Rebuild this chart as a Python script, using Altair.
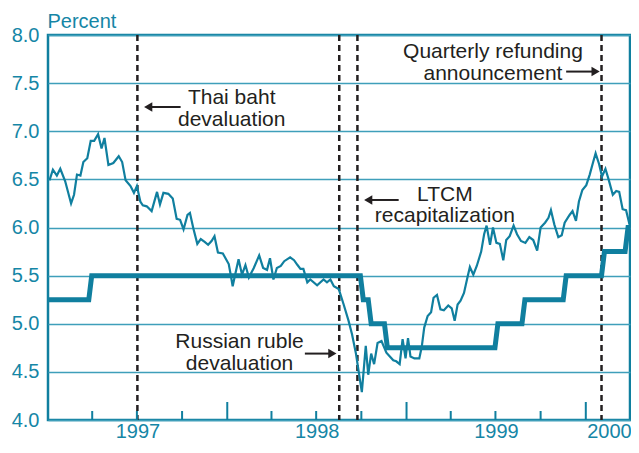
import altair as alt
import pandas as pd

BASE = pd.Timestamp("1997-01-01")

# Weekly yield series: days since 1997-01-01 and percent
yield_days = [3, 10, 18, 25, 35, 47, 53, 59, 66, 72, 80, 87, 94, 102, 109, 115, 123, 133, 144, 151,
              158, 168, 175, 181, 188, 193, 201, 211, 222, 228, 235, 245, 254, 262, 269, 276, 284, 289, 296, 304,
              311, 319, 326, 333, 339, 346, 356, 368, 373, 376, 381, 388, 395, 402, 409, 419, 430, 438, 446, 452,
              459, 466, 474, 481, 493, 501, 508, 514, 520, 528, 534, 548, 561, 568, 575, 582, 592, 602, 612, 619,
              627, 639, 647, 652, 658, 664, 671, 679, 689, 696, 703, 709, 716, 722, 728, 733, 738, 746, 756, 761,
              766, 773, 780, 785, 792, 799, 806, 815, 822, 828, 834, 840, 847, 854, 859, 866, 873, 882, 888, 893,
              900, 906, 913, 920, 927, 933, 940, 948, 955, 963, 972, 980, 988, 996, 1003, 1012, 1019, 1024, 1031, 1039,
              1046, 1052, 1062, 1068, 1075, 1081, 1088, 1096, 1103, 1110, 1115, 1122, 1128, 1135, 1142, 1150, 1157, 1163, 1170, 1177,
              1184]
yield_vals = [6.49, 6.60, 6.54, 6.61, 6.48, 6.25, 6.34, 6.55, 6.54, 6.68, 6.72, 6.90, 6.90, 6.97, 6.82, 6.93, 6.65, 6.67, 6.74, 6.68,
              6.49, 6.43, 6.36, 6.43, 6.27, 6.23, 6.22, 6.17, 6.37, 6.24, 6.36, 6.35, 6.30, 6.09, 6.08, 5.98, 6.13, 6.15, 5.99, 5.83,
              5.88, 5.85, 5.82, 5.86, 5.91, 5.74, 5.73, 5.62, 5.48, 5.39, 5.51, 5.67, 5.51, 5.61, 5.48, 5.58, 5.71, 5.58, 5.56, 5.68,
              5.46, 5.58, 5.60, 5.65, 5.69, 5.66, 5.61, 5.57, 5.57, 5.43, 5.46, 5.40, 5.46, 5.43, 5.46, 5.39, 5.36, 5.20, 5.03, 4.89,
              4.69, 4.29, 4.77, 4.47, 4.69, 4.58, 4.80, 4.82, 4.70, 4.66, 4.62, 4.61, 4.58, 4.84, 4.64, 4.85, 4.66, 4.64, 4.64, 4.76,
              4.96, 5.08, 5.12, 5.27, 5.30, 5.15, 5.14, 5.19, 5.16, 5.03, 5.20, 5.24, 5.32, 5.48, 5.59, 5.51, 5.60, 5.75, 5.93, 6.02,
              5.82, 6.00, 5.84, 5.83, 5.66, 5.87, 5.91, 6.02, 5.93, 5.86, 5.84, 5.90, 5.87, 5.76, 6.00, 6.05, 6.10, 6.18, 6.03, 5.90,
              5.92, 6.05, 6.13, 6.17, 6.07, 6.27, 6.39, 6.44, 6.55, 6.68, 6.77, 6.66, 6.53, 6.61, 6.49, 6.34, 6.38, 6.37, 6.19, 6.18,
              6.03]

# Fed funds target (step series)
target_dates = ["1997-01-01", "1997-03-25", "1997-03-31", "1998-09-29", "1998-10-05", "1998-10-15",
                "1998-10-21", "1998-11-17", "1998-11-23", "1999-06-30", "1999-07-06", "1999-08-24",
                "1999-08-30", "1999-11-16", "1999-11-22", "2000-02-02", "2000-02-08", "2000-03-21",
                "2000-03-27", "2000-03-31"]
target_vals = [5.25, 5.25, 5.5, 5.5, 5.25, 5.25, 5.0, 5.0, 4.75, 4.75, 5.0, 5.0,
               5.25, 5.25, 5.5, 5.5, 5.75, 5.75, 6.0, 6.0]

event_dates = ["1997-07-02", "1998-08-17", "1998-09-23", "2000-02-02"]

# Annotations (first-line anchor)
note_texts = ["Thai baht\ndevaluation", "Quarterly refunding\nannouncement",
              "LTCM\nrecapitalization", "Russian ruble\ndevaluation"]
note_dates = ["1998-01-10", "1999-06-26", "1999-03-20", "1998-01-26"]
note_vals = [7.345, 7.82, 6.338, 4.81]

arrow_from = ["1997-09-28", "1999-11-22", "1998-12-16", "1998-06-08"]
arrow_to = ["1997-07-24", "2000-01-21", "1998-10-15", "1998-08-03"]
arrow_vals = [7.252, 7.62, 6.286, 4.69]
arrow_shape = ["triangle-left", "triangle-right", "triangle-left", "triangle-right"]

year_label_dates = ["1997-07-02", "1998-07-02", "1999-07-02", "2000-02-17"]
quarter_ticks = ["1997-04-01", "1997-07-01", "1997-10-01", "1998-04-01", "1998-07-01",
                 "1998-10-01", "1999-04-01", "1999-07-01", "1999-10-01"]
year_ticks = ["1998-01-01", "1999-01-01", "2000-01-01"]
y_ticks = [4.0, 4.5, 5.0, 5.5, 6.0, 6.5, 7.0, 7.5, 8.0]


def ms(s):
    return int(pd.Timestamp(s, tz="UTC").timestamp() * 1000)


TEAL = "#107f9f"
LABEL = "#1586a6"
GRID = "#3f9fba"
INK = "#231f20"
FONT = "Liberation Sans"
W, H = 582, 385

yld = pd.DataFrame({
    "date": [(BASE + pd.Timedelta(days=d)).strftime("%Y-%m-%d") for d in yield_days],
    "value": yield_vals,
})
tgt = pd.DataFrame({"date": target_dates, "value": target_vals})
ev = pd.DataFrame({"date": event_dates})
notes = pd.DataFrame({"date": note_dates, "value": note_vals, "text": note_texts})
arrows = pd.DataFrame({"d1": arrow_from, "d2": arrow_to, "value": arrow_vals, "shape": arrow_shape})
qt = pd.DataFrame({"date": quarter_ticks})
yt = pd.DataFrame({"date": year_ticks})

xscale = alt.Scale(domain=[ms("1997-01-01"), ms("2000-03-31")])
yscale = alt.Scale(domain=[4, 8], nice=False, zero=False)

x_axis = alt.Axis(
    values=[ms(d) for d in year_label_dates],
    labelExpr="utcFormat(datum.value, '%Y')",
    ticks=False, domain=False, grid=False, title=None,
    labelFontSize=20, labelColor=LABEL, labelFont=FONT, labelPadding=1,
    labelFlush=False, labelOverlap=False,
)
y_axis = alt.Axis(
    values=y_ticks, format=".1f", grid=True, gridColor=GRID, gridWidth=1.5,
    ticks=False, domain=False,
    labelFontSize=20, labelColor=LABEL, labelFont=FONT, labelPadding=9,
    title="Percent", titleAngle=0, titleAlign="left", titleBaseline="alphabetic",
    titleX=-1, titleY=-8, titleFontSize=20, titleFontWeight="normal",
    titleColor=LABEL, titleFont=FONT,
)


def X(f):
    return alt.X(f, scale=xscale, axis=x_axis)


def Y(f):
    return alt.Y(f, scale=yscale, axis=y_axis)


yield_line = alt.Chart(yld).mark_line(color=TEAL, strokeWidth=2.2).encode(
    x=X("date:T"), y=Y("value:Q"),
)

events = alt.Chart(ev).mark_rule(
    color=INK, strokeWidth=2.5, strokeDash=[6, 4]
).encode(x=X("date:T"))

target_line = alt.Chart(tgt).mark_line(color=TEAL, strokeWidth=5).encode(
    x=X("date:T"), y=Y("value:Q"),
)

q_ticks = alt.Chart(qt).mark_rule(color=TEAL, strokeWidth=2).encode(
    x=X("date:T"), y=alt.value(H), y2=alt.value(H - 9),
)
y_tick_marks = alt.Chart(yt).mark_rule(color=TEAL, strokeWidth=2).encode(
    x=X("date:T"), y=alt.value(H), y2=alt.value(H - 18),
)

note_text = alt.Chart(notes).mark_text(
    font=FONT, fontSize=21, color=INK, align="center", baseline="middle",
    lineBreak="\n", lineHeight=21.5,
).encode(x=X("date:T"), y=Y("value:Q"), text="text:N")

arrow_shaft = alt.Chart(arrows).mark_rule(color=INK, strokeWidth=2).encode(
    x=X("d1:T"), x2="d2:T", y=Y("value:Q"),
)

arrow_head = alt.Chart(arrows).mark_point(
    filled=True, color=INK, opacity=1, size=90
).encode(
    x=X("d2:T"), y=Y("value:Q"),
    shape=alt.Shape("shape:N", scale=None, legend=None),
)

chart = alt.layer(
    events, yield_line, target_line, q_ticks, y_tick_marks, note_text, arrow_shaft, arrow_head
).properties(
    width=W, height=H,
    autosize=alt.AutoSizeParams(type="none"),
    padding={"left": 40, "top": 27, "right": 1, "bottom": 20},
    background="white",
).configure_view(stroke=TEAL, strokeWidth=2.5)

chart.save("out.html", embed_options={"renderer": "svg", "actions": False})
